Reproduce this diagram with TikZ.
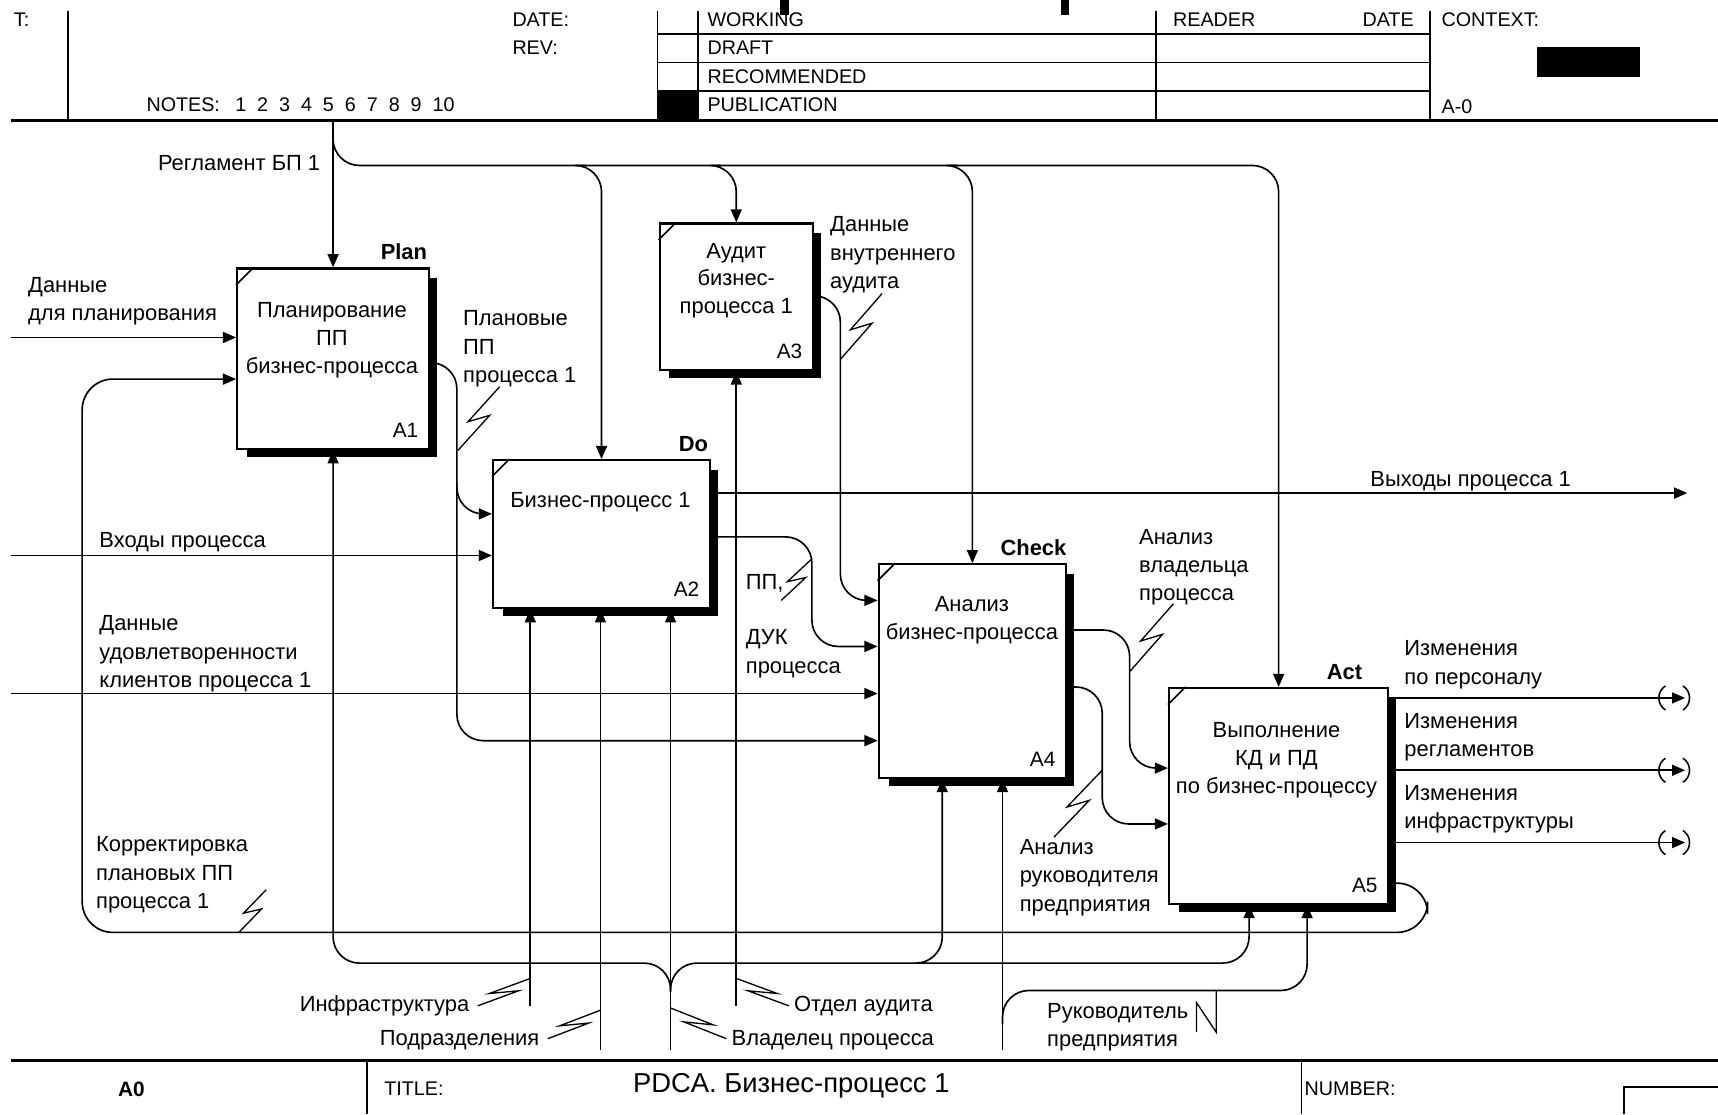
\documentclass[tikz,border=0pt]{standalone}
\usepackage{fontspec}
\setmainfont{Liberation Sans}
\usetikzlibrary{arrows.meta,calc}
\newcommand\shd[1]{\fill ($(#1.north east)+(0,10)$) rectangle ($(#1.south east)+(6,6)$);
  \fill ($(#1.south west)+(10,0)$) rectangle ($(#1.south east)+(6,6)$);}
\newcommand\crn[1]{\draw ($(#1.north west)+(0,16)$) -- ($(#1.north west)+(16,0)$);}
\newcommand\zz[3]{\draw[line width=0.6pt] (#1) -- ($(#1)!0.55!(#2)+(#3)$) -- ($(#1)!0.45!(#2)-(#3)$) -- (#2);}
\newcommand\tun[1]{\draw[line width=0.7pt] (1520,#1-11) .. controls (1512,#1-6) and (1512,#1+6) .. (1520,#1+11);
  \draw[line width=0.7pt] (1536,#1-11) .. controls (1544,#1-6) and (1544,#1+6) .. (1536,#1+11);}
\begin{document}
\begin{tikzpicture}[x=0.5pt,y=-0.5pt,line width=0.75pt,
  arr/.style={-{Triangle[length=6pt,width=5pt]}},
  fbox/.style={draw,line width=1pt,fill=white,inner sep=0pt},
  lab/.style={anchor=north west,inner sep=0pt,align=left,font=\fontsize{10}{13}\selectfont,execute at begin node=\strut},
  labr/.style={anchor=north east,inner sep=0pt,align=right,font=\fontsize{10}{13}\selectfont,execute at begin node=\strut},
  btxt/.style={anchor=north,inner sep=0pt,align=center,font=\fontsize{10}{12.75}\selectfont,execute at begin node=\strut},
  bid/.style={anchor=east,inner sep=0pt,font=\fontsize{9.5}{11}\selectfont},
  pdca/.style={anchor=south east,inner sep=0pt,font=\bfseries\fontsize{10}{12}\selectfont},
  hd/.style={anchor=west,inner sep=0pt,font=\fontsize{9}{10}\selectfont},
  frame/.style={line width=1.1pt}]
\useasboundingbox (0,0) rectangle (1568,1017);

% ---------- header ----------
\fill (712,0) rectangle (720,14);
\fill (968,0) rectangle (976,14);
\draw[frame] (10,110) -- (1568,110);
\draw (62,10) -- (62,110);
\draw (600,10) -- (600,110);
\draw (637,10) -- (637,110);
\draw (1055,10) -- (1055,110);
\draw (1305,10) -- (1305,110);
\draw (600,31) -- (1305,31);
\draw (600,57) -- (1305,57);
\draw (600,83) -- (1305,83);
\fill (600,83) rectangle (637,110);
\fill (1403,43) rectangle (1497,70);
\node[hd] (hT) at (12,18) {T:};
\node[hd] (hDATE) at (467,18) {DATE:};
\node[hd] (hREV) at (467,44) {REV:};
\node[hd] (hNOTES) at (133,96) {NOTES:\hspace{7pt}1\hspace{5pt}2\hspace{5pt}3\hspace{5pt}4\hspace{5pt}5\hspace{5pt}6\hspace{5pt}7\hspace{5pt}8\hspace{5pt}9\hspace{5pt}10};
\node[hd] (hW) at (645,18) {WORKING};
\node[hd] (hDR) at (645,44) {DRAFT};
\node[hd] (hREC) at (645,70) {RECOMMENDED};
\node[hd] (hPUB) at (645,96) {PUBLICATION};
\node[hd] (hREAD) at (1070,18) {READER};
\node[hd,anchor=east] (hDATE2) at (1291,18) {DATE};
\node[hd] (hCTX) at (1315,18) {CONTEXT:};
\node[hd] (hA0) at (1315,97) {A-0};

% ---------- footer ----------
\draw[frame] (10,968) -- (1568,968);
\draw (335,968) -- (335,1017);
\draw (1188,968) -- (1188,1017);
\draw (1482,1017) -- (1482,992) -- (1568,992);
\node[hd,anchor=center,font=\bfseries\fontsize{9.5}{11}\selectfont] (fA0) at (120,994) {A0};
\node[hd] (fTITLE) at (350,994) {TITLE:};
\node[hd,font=\fontsize{12.5}{14}\selectfont] (fT) at (577,991) {PDCA. Бизнес-процесс 1};
\node[hd] (fNUM) at (1190,994) {NUMBER:};

% ---------- boxes ----------
\node[fbox,minimum width=87.5pt,minimum height=82.5pt] (A1) at (304,327.5) {};
\node[fbox,minimum width=99pt,minimum height=67.5pt] (A2) at (549,487.5) {};
\node[fbox,minimum width=70pt,minimum height=67pt] (A3) at (672,271) {};
\node[fbox,minimum width=85.5pt,minimum height=97.5pt] (A4) at (887.5,612.5) {};
\node[fbox,minimum width=100pt,minimum height=98.5pt] (A5) at (1167,726.5) {};
\foreach \b in {A1,A2,A3,A4,A5} {\shd{\b}\crn{\b}}

\node[btxt] (t1) at (303,275) {Планирование\\ПП\\бизнес-процесса};
\node[btxt] (t2) at (548,444.5) {Бизнес-процесс 1};
\node[btxt] (t3) at (672,221) {Аудит\\бизнес-\\процесса 1};
\node[btxt] (t4) at (887,543.5) {Анализ\\бизнес-процесса};
\node[btxt] (t5) at (1165,658.5) {Выполнение\\КД и ПД\\по бизнес-процессу};
\node[bid] (i1) at ($(A1.south east)+(-10,-18)$) {A1};
\node[bid] (i2) at ($(A2.south east)+(-10,-18)$) {A2};
\node[bid] (i3) at ($(A3.south east)+(-10,-18)$) {A3};
\node[bid] (i4) at ($(A4.south east)+(-10,-18)$) {A4};
\node[bid] (i5) at ($(A5.south east)+(-10,-18)$) {A5};
\node[pdca] (pPlan) at ($(A1.north east)+(-2,-6)$) {Plan};
\node[pdca] (pDo) at ($(A2.north east)+(-2,-6)$) {Do};
\node[pdca] (pCheck) at ($(A4.north east)+(0,-6)$) {Check};
\node[pdca] (pAct) at ($(A5.north east)+(-24,-6)$) {Act};

% ---------- controls ----------
\coordinate (regtop) at (304,110);
\draw[arr] (regtop) -- (A1.north);
\draw[arr,rounded corners=12] (304,132) -- (304,151) -- (A5.north |- 0,151) -- (A5.north);
\draw[arr,rounded corners=12] ($(A2.north|-0,151)+(-14,0)$) -- (A2.north|-0,151) -- (A2.north);
\draw[arr,rounded corners=12] ($(A3.north|-0,151)+(-14,0)$) -- (A3.north|-0,151) -- (A3.north);
\draw[arr,rounded corners=12] ($(A4.north|-0,151)+(-14,0)$) -- (A4.north|-0,151) -- (A4.north);
\node[labr] (lReg) at (293,137) {Регламент БП 1};

% ---------- inputs ----------
\coordinate (in1) at (10,308);
\coordinate (in2) at (10,507);
\coordinate (in3) at (10,633);
\draw[arr] (in1) -- (A1.west|-in1);
\draw[arr] (in2) -- (A2.west|-in2);
\draw[arr] (in3) -- (A4.west|-in3);
\node[lab] (lDP) at (25,252) {Данные\\для планирования};
\node[lab] (lIn) at (90,481) {Входы процесса};
\node[lab] (lUd) at (90,561) {Данные\\удовлетворенности\\клиентов процесса 1};

% feedback
\draw[arr,rounded corners=14] (A5.east|-0,806) -- (1303,806) -- (1303,851) -- (75,851) -- (75,346) -- (A1.west|-0,346);
\node[lab] (lKor) at (87,763) {Корректировка\\плановых ПП\\процесса 1};
\zz{218,851}{243,812}{7,0}

% plan outputs
\draw[arr,rounded corners=12] (A1.east|-0,331) -- (417,331) -- (417,469) -- (A2.west|-0,469);
\draw[arr,rounded corners=12] (417,440) -- (417,676) -- (A4.west|-0,676);
\node[lab] (lPl) at (422,283) {Плановые\\ПП\\процесса 1};
\zz{418,411}{456,353}{8,0}

% A2 outputs
\coordinate (out1) at (1540,450);
\draw[arr] (A2.east|-out1) -- (out1);
\node[lab] (lOut) at (1250,425) {Выходы процесса 1};
\draw[arr,rounded corners=12] (A2.east|-0,490) -- (741,490) -- (741,590) -- (A4.west|-0,590);
\node[lab] (lPP) at (680,519) {ПП,};
\node[lab] (lDUK) at (680,574) {ДУК\\процесса};
\zz{713,548}{741,510}{7,0}

% A3 output
\draw[arr,rounded corners=12] (A3.east|-0,270) -- (767,270) -- (767,548) -- (A4.west|-0,548);
\node[lab] (lAud) at (757,197) {Данные\\внутреннего\\аудита};
\zz{767,328}{805,268}{8,0}

% A4 outputs
\draw[arr,rounded corners=12] (A4.east|-0,575) -- (1031,575) -- (1031,701) -- (A5.west|-0,701);
\draw[arr,rounded corners=12] (A4.east|-0,627) -- (1006,627) -- (1006,752) -- (A5.west|-0,752);
\node[lab] (lVl) at (1039,482) {Анализ\\владельца\\процесса};
\zz{1031,613}{1071,551}{8,0}
\node[lab] (lRk) at (930,765) {Анализ\\руководителя\\предприятия};
\zz{962,764}{1006,703}{8,0}

% A5 outputs
\foreach \yy/\nm in {637/o1,703/o2,769/o3} {
  \coordinate (\nm) at (1538,\yy);
  \draw[arr] (A5.east|-\nm) -- (\nm);
  \tun{\yy}
}
\node[lab] (lC1) at (1281,584) {Изменения\\по персоналу};
\node[lab] (lC2) at (1281,650) {Изменения\\регламентов};
\node[lab] (lC3) at (1281,716) {Изменения\\инфраструктуры};

% ---------- mechanisms ----------
\draw[arr] (484,918) -- (484,0|-A2.south);
\draw[arr] (548,958) -- (548,0|-A2.south);
\draw[arr] (612,958) -- (612,0|-A2.south);
\draw[arr] (672,918) -- (A3.south);
\draw[arr,rounded corners=12] (612,905) -- (612,879) -- (304,879) -- (A1.south);
\draw[arr,rounded corners=12] (612,905) -- (612,879) -- (1140,879) -- (1140,0|-A5.south);
\draw[arr,rounded corners=12] (840,879) -- (860,879) -- (860,0|-A4.south);
\draw[arr] (915,958) -- (915,0|-A4.south);
\draw[arr,rounded corners=12] (915,935) -- (915,904) -- (1193,904) -- (1193,0|-A5.south);

\node[labr] (lInf) at (429,904) {Инфраструктура};
\zz{436,918}{484,893}{11,0}
\node[labr] (lPod) at (493,935) {Подразделения};
\zz{500,948}{548,922}{11,0}
\node[lab] (lOtd) at (724,904) {Отдел аудита};
\zz{672,893}{720,918}{11,0}
\node[lab] (lVlad) at (667,935) {Владелец процесса};
\zz{612,920}{663,948}{11,0}
\node[lab] (lRuk) at (955,915) {Руководитель\\предприятия};
\draw[line width=0.6pt] (1092,942) -- (1092,915) -- (1110,942) -- (1110,904);
\end{tikzpicture}
\end{document}
